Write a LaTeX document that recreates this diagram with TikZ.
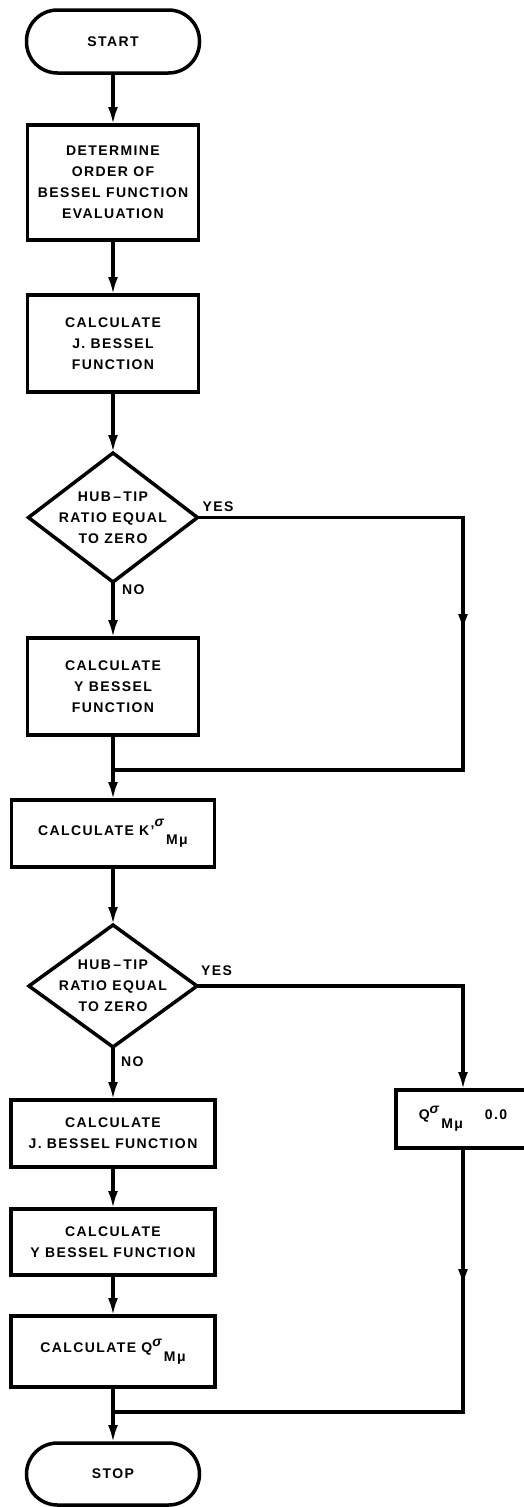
\documentclass[tikz,border=0pt]{standalone}
\usepackage{fontspec}
\setmainfont{Liberation Sans}[LetterSpace=10]
\usepackage{tikz}
\usetikzlibrary{shapes,
                arrows.meta,
                decorations.markings,
                positioning}
\tikzset{terminal/.style =
   {rectangle,
    rounded corners=31pt,
    draw,
    line width=3.5pt,
    outer sep=0pt,
    minimum width=173pt,
    minimum height=63pt}}
\tikzset{process/.style =
   {rectangle,
    draw,
    line width=3.5pt,
    outer sep=0pt,
    align=center,
    minimum width=171pt}}
\tikzset{decision/.style =
   {diamond,
    draw,
    line width=3.5pt,
    outer sep=0pt,
    inner sep=0pt}}
\tikzset{answer/.style = {inner sep=0pt}}
\tikzset{flowline/.style = {draw, line width=3.5pt}}
\tikzset{arrow/.style = {flowline, -{Latex[length=18pt, width=10pt]}}}
\tikzset{midarrow/.style =
   {flowline,
    postaction={decorate},
    decoration={markings,
                mark=at position #1 with {\arrow{Latex[length=18pt, width=10pt]}}}}}
\newcommand{\sigMmu}[1]{\raisebox{#1}{\itshape σ}\,\raisebox{-9pt}{Mμ}}

\begin{document}
\begin{tikzpicture}[x=1pt, y=1pt, font=\fontsize{14}{21}\selectfont\bfseries]

    \useasboundingbox (0,0) rectangle (523,-1507);

    \node [terminal] (start) at (113,-41.5) {START};

    \node [process,
           minimum height=115pt,
           below = 52pt of start] (order) {DETERMINE\\ORDER OF\\BESSEL FUNCTION\\EVALUATION};

    \node [process,
           minimum height=97pt,
           below = 55pt of order] (jcalc) {CALCULATE\\J. BESSEL\\FUNCTION};

    \node [decision,
           minimum width=169pt,
           minimum height=129pt,
           below = 61pt of jcalc] (hub1) {};
    \node [align=center] (hub1text) at (hub1) {HUB\,–\,TIP\\RATIO EQUAL\\TO ZERO};

    \node [process,
           minimum height=97pt,
           below = 56pt of hub1] (ycalc) {CALCULATE\\Y BESSEL\\FUNCTION};

    \node [process,
           minimum width=203pt,
           minimum height=67pt,
           below = 65pt of ycalc] (kcalc) {CALCULATE K'\sigMmu{9pt}};

    \node [decision,
           minimum width=168pt,
           minimum height=122pt,
           below = 58pt of kcalc] (hub2) {};
    \node [align=center] (hub2text) at (hub2) {HUB\,–\,TIP\\RATIO EQUAL\\TO ZERO};

    \node [process,
           minimum width=204pt,
           minimum height=67pt,
           below = 53pt of hub2] (jcalc2) {CALCULATE\\J. BESSEL FUNCTION};

    \node [process,
           minimum width=204pt,
           minimum height=66pt,
           below = 42pt of jcalc2] (ycalc2) {CALCULATE\\Y BESSEL FUNCTION};

    \node [process,
           minimum width=204pt,
           minimum height=71pt,
           below = 41pt of ycalc2] (qcalc) {CALCULATE Q\sigMmu{6pt}};

    \node [terminal,
           minimum height=62pt,
           below = 56pt of qcalc] (stop) {STOP};

    \coordinate (yes1) at ([xshift=350pt]hub1.center);
    \coordinate (join1) at ([yshift=-35pt]ycalc.south);
    \coordinate (yes2) at ([xshift=350pt]hub2.center);
    \coordinate (join2) at ([yshift=-25pt]qcalc.south);

    \node [process,
           minimum width=134pt,
           minimum height=58pt,
           below = 104pt of yes2] (qzero) {Q\sigMmu{6pt}\hspace{22pt}0.0};

    \node [answer, anchor=south west] (yeslabel1) at ([xshift=5pt, yshift=6pt]hub1.east) {YES};
    \node [answer, anchor=north west] (nolabel1) at ([xshift=9pt, yshift=-3pt]hub1.south) {NO};
    \node [answer, anchor=south west] (yeslabel2) at ([xshift=4pt, yshift=10pt]hub2.east) {YES};
    \node [answer, anchor=north west] (nolabel2) at ([xshift=8pt, yshift=-10pt]hub2.south) {NO};

    \draw [arrow] (start) -- (order);
    \draw [arrow] (order) -- (jcalc);
    \draw [arrow] (jcalc) -- (hub1);
    \draw [arrow] (hub1.south) -- (ycalc);
    \draw [midarrow=380pt] (hub1.east) -| (yes1 |- join1) -- (join1);
    \draw [flowline] (ycalc) -- (join1);
    \draw [arrow] (join1) -- (kcalc);
    \draw [arrow] (kcalc) -- (hub2);
    \draw [arrow] (hub2.south) -- (jcalc2);
    \draw [arrow] (hub2.east) -| (qzero.north);
    \draw [arrow] (jcalc2) -- (ycalc2);
    \draw [arrow] (ycalc2) -- (qcalc);
    \draw [midarrow=139pt] (qzero.south) |- (join2);
    \draw [flowline] (qcalc) -- (join2);
    \draw [arrow] (join2) -- (stop);

\end{tikzpicture}
\end{document}
